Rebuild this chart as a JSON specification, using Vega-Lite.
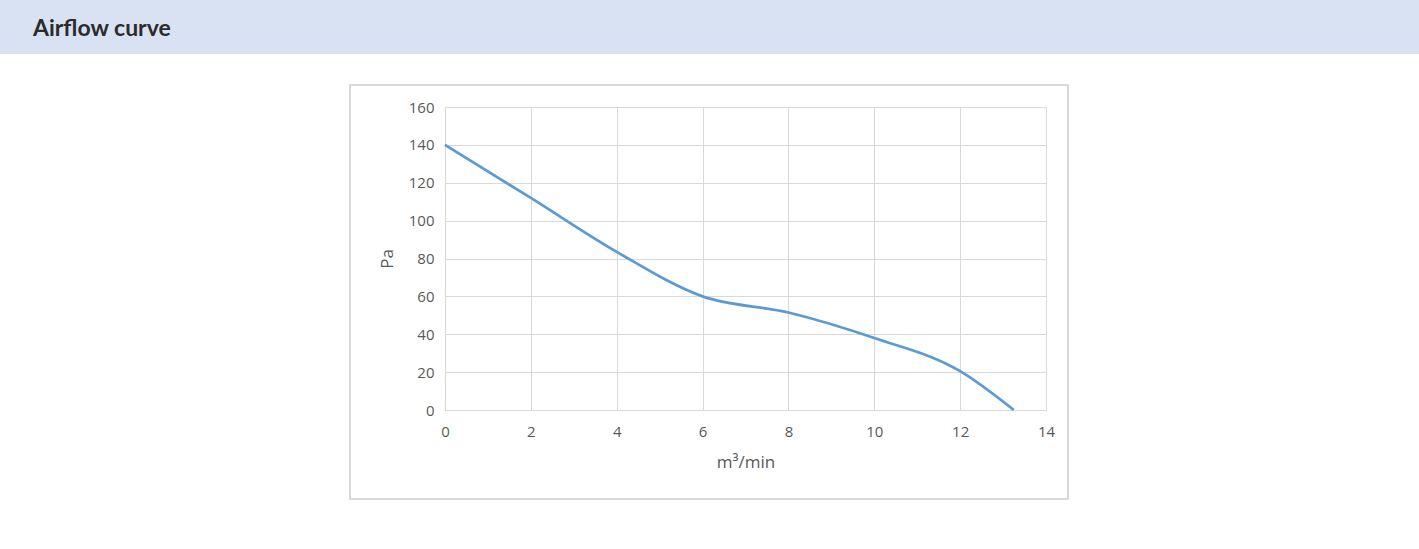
{
  "$schema": "https://vega.github.io/schema/vega-lite/v6.json",
  "padding": 0,
  "background": "white",
  "spacing": 30,
  "config": {
    "concat": {"spacing": 0},
    "font": "Open Sans",
    "axisX": {
      "domain": false,
      "ticks": false,
      "grid": true,
      "gridColor": "#d9d9d9",
      "gridWidth": 1,
      "labelFlush": false,
      "labelOverlap": false,
      "labelFont": "Open Sans",
      "labelFontSize": 15,
      "labelColor": "#595959",
      "labelPadding": 14,
      "titleFont": "Open Sans",
      "titleFontSize": 17,
      "titleFontWeight": "normal",
      "titleColor": "#595959",
      "titlePadding": 15
    },
    "axisY": {
      "domain": false,
      "ticks": false,
      "grid": true,
      "gridColor": "#d9d9d9",
      "gridWidth": 1,
      "labelFlush": false,
      "labelOverlap": false,
      "labelFont": "Open Sans",
      "labelFontSize": 15,
      "labelColor": "#595959",
      "labelPadding": 11,
      "titleFont": "Open Sans",
      "titleFontSize": 17,
      "titleFontWeight": "normal",
      "titleColor": "#595959",
      "titlePadding": 12
    }
  },
  "vconcat": [
    {
      "width": 1419,
      "height": 54,
      "view": {"fill": "#d9e2f2", "stroke": null},
      "title": {
        "text": "Airflow curve",
        "anchor": "start",
        "orient": "top",
        "offset": -37,
        "dx": 33,
        "dy": 22,
        "baseline": "alphabetic",
        "font": "Lato",
        "fontSize": 23,
        "fontWeight": "bold",
        "color": "#2b2b2b"
      },
      "data": {"values": []},
      "mark": "point",
      "encoding": {}
    },
    {
      "hconcat": [
        {
          "width": 349,
          "height": 100,
          "view": {"stroke": null},
          "data": {"values": []},
          "mark": "point",
          "encoding": {}
        },
        {
          "width": 601,
          "height": 303,
          "view": {"stroke": null},
          "data": {
            "values": [
              {"flow": 0, "pa": 140},
              {"flow": 2, "pa": 112},
              {"flow": 4, "pa": 83.5},
              {"flow": 6, "pa": 60},
              {"flow": 8, "pa": 51.5},
              {"flow": 10, "pa": 38},
              {"flow": 12, "pa": 20.5},
              {"flow": 13.25, "pa": 0}
            ]
          },
          "layer": [
            {
              "mark": {"type": "line", "interpolate": "monotone", "color": "#5b9bd5", "strokeWidth": 2.75},
              "encoding": {
                "x": {
                  "field": "flow",
                  "type": "quantitative",
                  "title": "m³/min",
                  "scale": {"domain": [0, 14], "nice": false, "zero": false},
                  "axis": {"values": [0, 2, 4, 6, 8, 10, 12, 14]}
                },
                "y": {
                  "field": "pa",
                  "type": "quantitative",
                  "title": "Pa",
                  "scale": {"domain": [0, 160], "nice": false, "zero": false},
                  "axis": {"values": [0, 20, 40, 60, 80, 100, 120, 140, 160]}
                }
              }
            },
            {
              "mark": {"type": "rect", "fill": null, "stroke": "#d9d9d9", "strokeWidth": 1.5, "clip": false},
              "encoding": {
                "x": {"datum": -2.213, "type": "quantitative", "title": "m³/min", "axis": {"values": [0, 2, 4, 6, 8, 10, 12, 14]}},
                "x2": {"datum": 14.512},
                "y": {"datum": 171.6, "type": "quantitative", "title": "Pa", "axis": {"values": [0, 20, 40, 60, 80, 100, 120, 140, 160]}},
                "y2": {"datum": -47.0}
              }
            }
          ]
        }
      ]
    }
  ]
}
